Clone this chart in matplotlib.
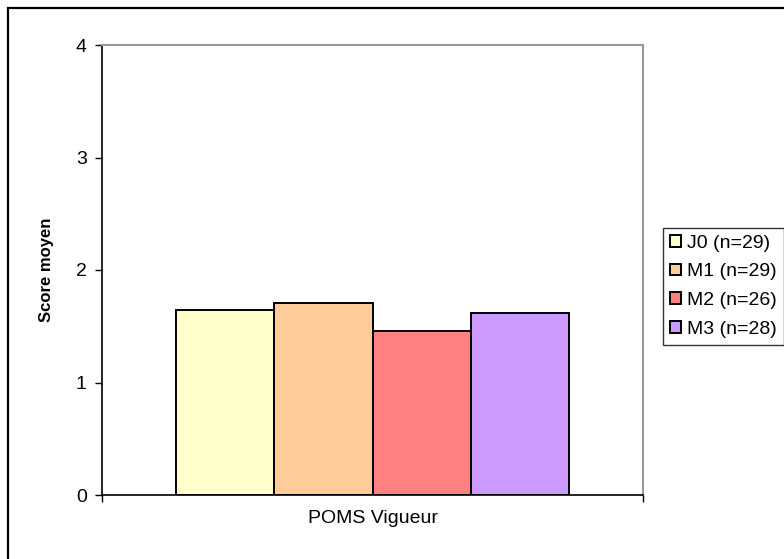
import numpy as np
import matplotlib.pyplot as plt
from matplotlib.patches import Rectangle

# data
category = "POMS Vigueur"
series = ["J0 (n=29)", "M1 (n=29)", "M2 (n=26)", "M3 (n=28)"]
scores = [1.645, 1.71, 1.46, 1.615]
colors = ["#FFFFCC", "#FFCC99", "#FF8080", "#CC99FF"]
yticks = [0, 1, 2, 3, 4]

plt.rcParams['font.family'] = ['Liberation Sans', 'DejaVu Sans']

fig = plt.figure(figsize=(7.84, 5.59), dpi=100)
ax = fig.add_axes([102 / 784, 64 / 559, 541 / 784, 450 / 559])

# outer chart frame (extends past the right and bottom edges)
fig.patches.append(Rectangle((8 / 784, -0.05), 1.2, (559 - 8) / 559 + 0.05,
                             transform=fig.transFigure, fill=False,
                             edgecolor='black', linewidth=1.6, zorder=0))

width = 0.1816
for i, (lab, val, col) in enumerate(zip(series, scores, colors)):
    x = 0.5 + (i - 1.5) * width
    ax.bar(x, val, width, color=col, edgecolor='black', linewidth=1.4, label=lab)

ax.set_xlim(0, 1)
ax.set_ylim(0, 4)
ax.set_yticks(yticks)
ax.set_xticks([0.5])
ax.set_xticklabels([category])
ax.set_xticks([0, 1], minor=True)
ax.tick_params(axis='x', which='major', length=0, labelsize=14, pad=11)
ax.tick_params(axis='x', which='minor', length=5, width=1, color='black', direction='out')
ax.tick_params(axis='y', length=5, width=1, labelsize=14, pad=6, direction='out')
ax.set_ylabel("Score moyen", fontsize=12, fontweight='bold', labelpad=16)

for s in ['left', 'bottom']:
    ax.spines[s].set_color('black')
    ax.spines[s].set_linewidth(1.2)
for s in ['top', 'right']:
    ax.spines[s].set_color('#999999')
    ax.spines[s].set_linewidth(1.5)

leg = fig.legend(loc='upper left', bbox_to_anchor=(663 / 784, (559 - 228) / 559),
                 fontsize=14, frameon=True, fancybox=False, edgecolor='black',
                 handlelength=0.55, handleheight=0.55, handletextpad=0.35,
                 labelspacing=0.6, borderpad=0.35, borderaxespad=0)
leg.get_frame().set_linewidth(1.0)

fig.savefig("out.png", dpi=100)
